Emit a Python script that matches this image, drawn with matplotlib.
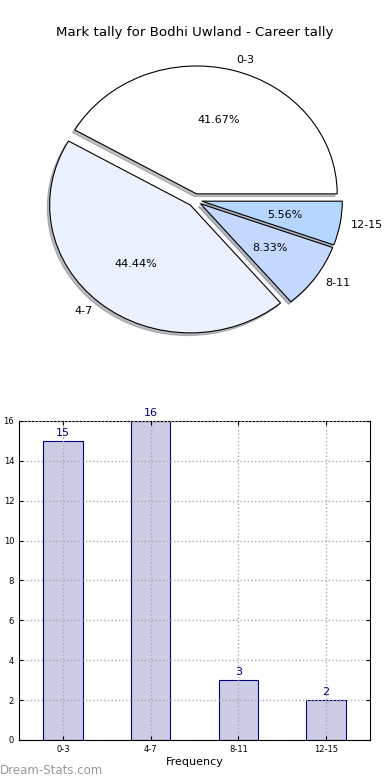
import matplotlib
matplotlib.use("Agg")
import matplotlib.pyplot as plt

bins = ["0-3", "4-7", "8-11", "12-15"]
counts = [15, 16, 3, 2]
slice_colors = ["#ffffff", "#ebf1ff", "#c5d9ff", "#b4d6ff"]
title = "Mark tally for Bodhi Uwland - Career tally"

fig = plt.figure(figsize=(3.9, 7.8), dpi=100)

# pie on top
ax1 = fig.add_axes([0.0487, 0.5385, 0.9013, 0.41])
wedges, texts, pcts = ax1.pie(counts, labels=bins, colors=slice_colors,
                              explode=[0.05] * len(counts), autopct="%1.2f%%",
                              shadow={"ox": -0.012, "oy": -0.015, "shade": 0.5},
                              startangle=0, labeldistance=1.08,
                              pctdistance=0.6,
                              wedgeprops={"edgecolor": "black", "linewidth": 0.8},
                              textprops={"fontsize": 8})
for t in texts:
    t.set_horizontalalignment("left" if t.get_position()[0] > 0 else "right")
ax1.set_aspect("auto")
ax1.set_xlim(-1.25, 1.25)
ax1.set_ylim(-1.25, 1.25)
ax1.set_title(title, fontsize=9.6, pad=3)

# bar chart below
ax2 = fig.add_axes([0.0487, 0.0513, 0.9, 0.409])
x = range(len(bins))
ax2.bar(x, counts, width=0.45, color="#ccccE5", edgecolor="#000080", linewidth=0.8, zorder=2)
for i, c in zip(x, counts):
    ax2.text(i, c + 0.15, str(c), ha="center", va="bottom", color="#000080", fontsize=8)
ax2.set_xlim(-0.5, 3.5)
ax2.set_ylim(0, 16)
ax2.set_xticks(list(x))
ax2.set_xticklabels(bins)
ax2.set_yticks(range(0, 17, 2))
ax2.tick_params(labelsize=6, direction="in", top=True, right=True, length=3)
ax2.grid(True, linestyle=":", color="#aaaaaa", linewidth=1, zorder=3)
ax2.set_axisbelow(False)
ax2.set_xlabel("Frequency", fontsize=8, labelpad=2)
ax2.set_ylabel("Scores in bins", fontsize=8, labelpad=4)

fig.text(0.0, 0.004, "Dream-Stats.com", fontsize=8.5, color="#999999",
         ha="left", va="bottom")

fig.savefig("out.png", dpi=100)
